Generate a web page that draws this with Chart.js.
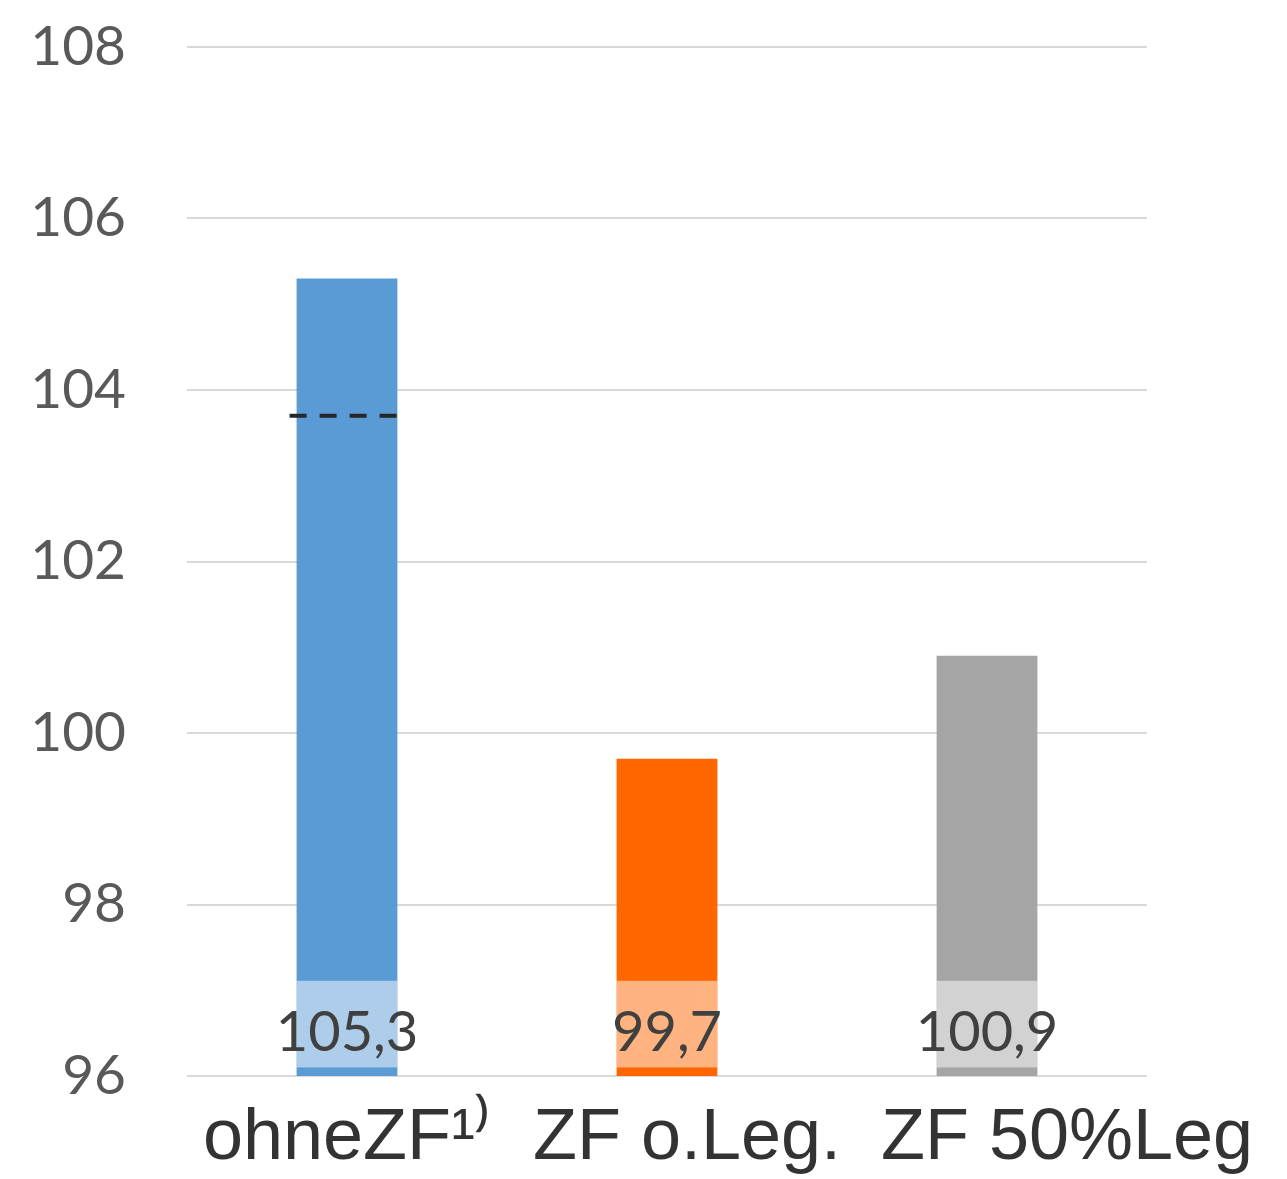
<!DOCTYPE html>
<html>
<head>
<meta charset="utf-8">
<script src="https://cdn.jsdelivr.net/npm/chart.js@4"></script>
<style>
  html, body { margin: 0; padding: 0; background: #fff; }
  #wrap { width: 1287px; height: 1179px; }
</style>
</head>
<body>
<div id="wrap"><canvas id="barChart"></canvas></div>
<script>
// Chart data
const categories = ["ohneZF\u00B9\u207E", "  ZF o.Leg.", "        ZF 50%Leg"];
const values = [105.3, 99.7, 100.9];
const barColors = ["#5B9BD5", "#FF6600", "#A5A5A5"];
// dashed reference mark (only on first bar)
const refValues = [103.7, null, null];
const yTicks = [96, 98, 100, 102, 104, 106, 108];

// label box drawn over the foot of each bar
const labelPlugin = {
  id: "barLabels",
  afterDatasetsDraw(chart) {
    const ctx = chart.ctx;
    const y = chart.scales.y;
    const meta = chart.getDatasetMeta(0);
    const top = y.getPixelForValue(97.11);
    const bottom = y.getPixelForValue(96.1);
    ctx.save();
    meta.data.forEach((bar, i) => {
      const w = bar.width;
      ctx.fillStyle = "rgba(255,255,255,0.5)";
      ctx.fillRect(bar.x - w / 2, top, w, bottom - top);

      ctx.fillStyle = "#404040";
      ctx.font = "56px Lato";
      ctx.textAlign = "center";
      ctx.textBaseline = "middle";
      ctx.fillText(values[i].toFixed(1).replace(".", ","), bar.x, (top + bottom) / 2 + 9);

      if (refValues[i] != null) {
        const ry = y.getPixelForValue(refValues[i]);
        ctx.strokeStyle = "#262626";
        ctx.lineWidth = 4;
        ctx.setLineDash([17, 13]);
        ctx.beginPath();
        ctx.moveTo(bar.x - w / 2 - 7, ry);
        ctx.lineTo(bar.x + w / 2, ry);
        ctx.stroke();
        ctx.setLineDash([]);
      }
    });
    ctx.restore();
  },
};

new Chart(document.getElementById("barChart"), {
  type: "bar",
  data: {
    labels: categories,
    datasets: [
      {
        data: values,
        backgroundColor: barColors,
        categoryPercentage: 1,
        barPercentage: 0.315,
      },
    ],
  },
  options: {
    responsive: true,
    maintainAspectRatio: false,
    animation: false,
    layout: {
      padding: { top: 47, right: 140, left: 0, bottom: 0 },
    },
    plugins: {
      legend: { display: false },
      tooltip: { enabled: false },
    },
    scales: {
      y: {
        min: 96,
        max: 108,
        afterBuildTicks: (s) => {
          s.ticks = yTicks.map((v) => ({ value: v }));
        },
        afterFit: (s) => {
          s.width = 187;
          s.paddingTop = 0;
          s.paddingBottom = 0;
        },
        border: { display: false },
        grid: { color: "#D9D9D9", lineWidth: 2, drawTicks: false },
        ticks: {
          padding: 61,
          color: "#595959",
          font: { family: "Lato", size: 55 },
        },
      },
      x: {
        border: { display: false },
        grid: { display: false, drawTicks: false },
        afterFit: (s) => {
          s.height = 1179 - 1076;
          s.paddingLeft = 0;
          s.paddingRight = 0;
        },
        ticks: {
          padding: 20,
          maxRotation: 0,
          autoSkip: false,
          color: "#333333",
          font: { family: "'Liberation Sans', Arial", size: 72 },
        },
      },
    },
  },
  plugins: [labelPlugin],
});
</script>
</body>
</html>
